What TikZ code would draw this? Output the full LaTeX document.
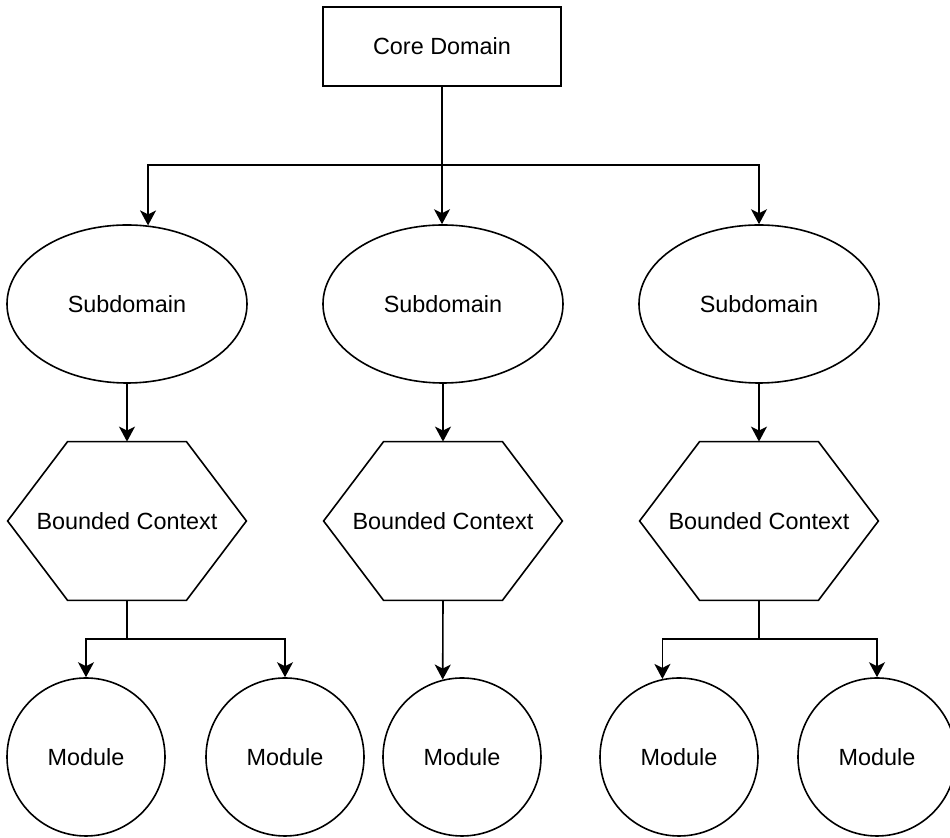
\documentclass[tikz,border=0pt]{standalone}
\usepackage{fontspec}
\setmainfont{Liberation Sans}
\usetikzlibrary{shapes.geometric,arrows.meta,calc}
\tikzset{
  base/.style={draw=black, line width=0.8pt, inner sep=0pt, font=\fontsize{11.7}{14}\selectfont, fill=white},
  corebox/.style={base, rectangle, minimum width=119pt, minimum height=39.5pt},
  subbox/.style={base, ellipse, minimum width=120pt, minimum height=79pt},
  hexbox/.style={inner sep=0pt, font=\fontsize{11.7}{14}\selectfont, rectangle, minimum width=119pt, minimum height=79pt},
  modbox/.style={base, circle, minimum size=79pt},
  conn/.style={line width=0.8pt, draw=black},
  arr/.style={conn, -{Stealth[length=7.5pt,width=8pt,inset=2pt]}}
}
\begin{document}
\begin{tikzpicture}[x=0.5pt,y=-0.5pt]
\useasboundingbox (0,0) rectangle (950,838);
% nodes
\node[corebox] (core) at (442,46.5) {Core Domain};
\node[subbox] (s1) at (127,304) {Subdomain};
\node[subbox] (s2) at (443,304) {Subdomain};
\node[subbox] (s3) at (759,304) {Subdomain};
\node[hexbox] (h1) at (127,521) {Bounded Context};
\node[hexbox] (h2) at (443,521) {Bounded Context};
\node[hexbox] (h3) at (759,521) {Bounded Context};
\foreach \h in {h1,h2,h3}{
  \draw[conn, line join=miter] (\h.west) -- ($(\h.north west)+(60,0)$) -- ($(\h.north east)+(-60,0)$) -- (\h.east) -- ($(\h.south east)+(-60,0)$) -- ($(\h.south west)+(60,0)$) -- cycle;
}
\node[modbox] (m1) at (86,757) {Module};
\node[modbox] (m2) at (285,757) {Module};
\node[modbox] (m3) at (462,757) {Module};
\node[modbox] (m4) at (679,757) {Module};
\node[modbox] (m5) at (877,757) {Module};
% junctions
\coordinate (bus) at (442,165);
\coordinate (j1) at (127,639);
\coordinate (j3) at (759,639);
% connectors
\draw[conn] (core.south) -- (bus);
\draw[arr] (bus) -| (s1.75.6);
\draw[arr] (bus) -- (bus |- s2.north);
\draw[arr] (bus) -| (s3.north);
\draw[arr] (s1) -- (h1);
\draw[arr] (s2) -- (h2);
\draw[arr] (s3) -- (h3);
\draw[conn] (h1.south) -- (j1);
\draw[arr] (j1) -| (m1.north);
\draw[arr] (j1) -| (m2.north);
\draw[arr] (h2.south) -- (m3.104);
\draw[conn] (h3.south) -- (j3);
\draw[arr] (j3) -| (m4.102.4);
\draw[arr] (j3) -| (m5.north);
\end{tikzpicture}
\end{document}
